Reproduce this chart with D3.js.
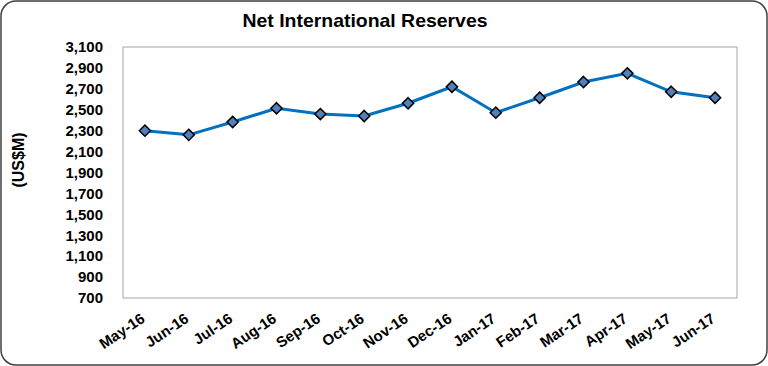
<!DOCTYPE html>
<html>
<head>
  <meta charset="utf-8">
  <title>Net International Reserves</title>
  <script src="https://cdn.jsdelivr.net/npm/d3@7"></script>
  <style>
    body { margin: 0; background: #fff; }
    text { font-family: Arial, "Liberation Sans", sans-serif; font-weight: bold; fill: #000; }
  </style>
</head>
<body>
<div id="chart"></div>
<script>
var months = ['May-16','Jun-16','Jul-16','Aug-16','Sep-16','Oct-16','Nov-16','Dec-16',
              'Jan-17','Feb-17','Mar-17','Apr-17','May-17','Jun-17'];
var reserves = [2300, 2260, 2383, 2514, 2459, 2440, 2562, 2720, 2472, 2615, 2765, 2848, 2672, 2615];
var yTicks = [700, 900, 1100, 1300, 1500, 1700, 1900, 2100, 2300, 2500, 2700, 2900, 3100];

var w = 768, h = 366;
// plot area edges (note: "top" clashes with window.top)
var pLeft = 123, pRight = 737, pTop = 47, pBottom = 298;

var svg = d3.select('#chart').append('svg')
  .attr('width', w)
  .attr('height', h);

// outer rounded frame
svg.append('rect')
  .attr('x', 1).attr('y', 1)
  .attr('width', w - 2).attr('height', h - 2)
  .attr('rx', 15).attr('ry', 15)
  .attr('fill', '#fff')
  .attr('stroke', '#404040')
  .attr('stroke-width', 1.5);

var x = d3.scaleBand().domain(months).range([pLeft, pRight]);
var y = d3.scaleLinear().domain([700, 3100]).range([pBottom, pTop]);

// plot area border
svg.append('rect')
  .attr('x', pLeft).attr('y', pTop)
  .attr('width', pRight - pLeft).attr('height', pBottom - pTop)
  .attr('fill', 'none')
  .attr('stroke', '#a6a6a6')
  .attr('stroke-width', 1);

// y axis
var yAxis = svg.append('g')
  .attr('transform', 'translate(' + pLeft + ',0)')
  .call(d3.axisLeft(y).tickValues(yTicks).tickFormat(d3.format(',')).tickSize(0).tickPadding(20));
yAxis.select('.domain').remove();
yAxis.selectAll('text')
  .attr('font-size', '15px')
  .attr('font-family', 'Arial, "Liberation Sans", sans-serif')
  .attr('font-weight', 'bold')
  .attr('fill', '#000');

// x axis labels
var xAxis = svg.append('g')
  .attr('transform', 'translate(0,' + pBottom + ')')
  .call(d3.axisBottom(x).tickSize(0).tickPadding(0));
xAxis.select('.domain').remove();
xAxis.selectAll('text')
  .attr('font-size', '15px')
  .attr('font-family', 'Arial, "Liberation Sans", sans-serif')
  .attr('font-weight', 'bold')
  .attr('fill', '#000')
  .attr('text-anchor', 'end')
  .attr('dy', 0)
  .attr('y', 0)
  .attr('transform', 'translate(1,23) rotate(-34)');

// line
var line = d3.line()
  .x(function(d, i) { return x(months[i]) + x.bandwidth() / 2; })
  .y(function(d) { return y(d); });

svg.append('path')
  .datum(reserves)
  .attr('d', line)
  .attr('fill', 'none')
  .attr('stroke', '#0070c0')
  .attr('stroke-width', 3);

// diamond markers
svg.selectAll('.marker')
  .data(reserves)
  .enter()
  .append('path')
  .attr('class', 'marker')
  .attr('d', d3.symbol().type(d3.symbolDiamond2).size(80))
  .attr('transform', function(d, i) {
    return 'translate(' + (x(months[i]) + x.bandwidth() / 2) + ',' + y(d) + ')';
  })
  .attr('fill', '#4f81bd')
  .attr('stroke', '#000')
  .attr('stroke-width', 1.5);

// title
svg.append('text')
  .attr('x', 365)
  .attr('y', 27)
  .attr('text-anchor', 'middle')
  .attr('font-size', '19px')
  .attr('textLength', 245)
  .attr('lengthAdjust', 'spacingAndGlyphs')
  .text('Net International Reserves');

// y axis title
svg.append('text')
  .attr('transform', 'translate(24,160) rotate(-90)')
  .attr('text-anchor', 'middle')
  .attr('font-size', '16px')
  .text('(US$M)');
</script>
</body>
</html>
